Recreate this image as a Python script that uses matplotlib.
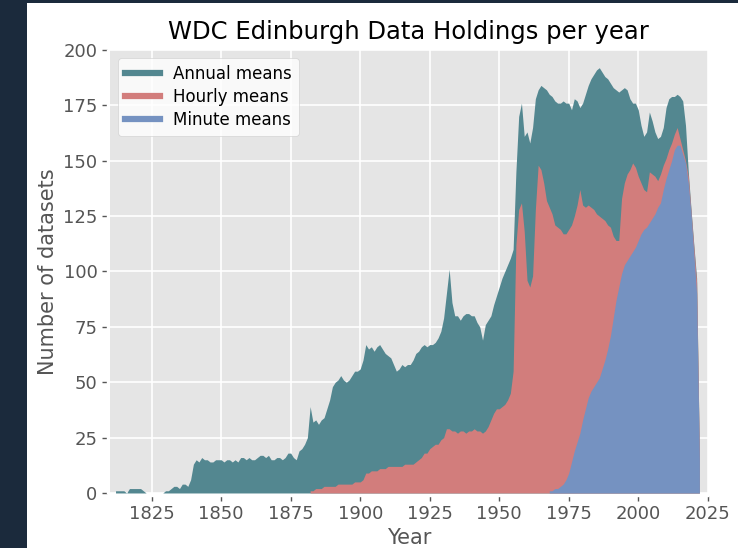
import numpy as np
import matplotlib
matplotlib.use("Agg")
import matplotlib.pyplot as plt
from matplotlib.lines import Line2D
from matplotlib.patches import Rectangle

plt.style.use("ggplot")

# Number of datasets held per year
annual_start = 1812
annual_counts = [
    1, 1, 1, 1, 0, 2, 2, 2, 2, 2, 1, 0, 0, 0, 0, 0, 0, 0,           # 1812-1829
    1, 1, 2, 3, 3, 2, 4, 4, 3, 6,                                   # 1830-1839
    13, 15, 14, 16, 15, 15, 14, 14, 15, 15,                         # 1840s
    15, 14, 15, 15, 14, 15, 14, 16, 16, 15,                         # 1850s
    16, 15, 15, 16, 17, 17, 16, 17, 15, 15,                         # 1860s
    16, 16, 15, 16, 18, 18, 16, 15, 19, 20,                         # 1870s
    22, 25, 39, 32, 33, 31, 33, 34, 38, 42,                         # 1880s
    48, 50, 51, 53, 51, 50, 51, 53, 55, 55,                         # 1890s
    56, 60, 67, 65, 66, 64, 66, 67, 65, 63,                         # 1900s
    62, 61, 58, 55, 56, 58, 57, 58, 58, 60,                         # 1910s
    63, 64, 66, 67, 66, 67, 67, 68, 70, 73,                         # 1920s
    79, 90, 101, 86, 80, 80, 78, 80, 81, 81,                        # 1930s
    80, 80, 77, 75, 69, 76, 78, 80, 85, 89,                         # 1940s
    93, 97, 100, 103, 106, 110, 145, 170, 176, 161,                 # 1950s
    163, 158, 165, 178, 182, 184, 183, 182, 180, 179,               # 1960s
    177, 176, 176, 177, 176, 176, 173, 178, 177, 174,               # 1970s
    176, 180, 184, 187, 189, 191, 192, 190, 188, 187,               # 1980s
    185, 183, 182, 181, 182, 183, 182, 178, 176, 176,               # 1990s
    173, 166, 161, 163, 172, 168, 163, 160, 161, 165,               # 2000s
    174, 178, 179, 179, 180, 179, 177, 166, 145, 128,               # 2010s
    112, 97, 17,                                                    # 2020-2022
]

hourly_start = 1882
hourly_counts = [
    1, 1, 2, 2, 2, 3, 3, 3,                                         # 1882-1889
    3, 3, 4, 4, 4, 4, 4, 4, 5, 5,                                   # 1890s
    5, 6, 9, 9, 10, 10, 10, 11, 11, 11,                             # 1900s
    12, 12, 12, 12, 12, 12, 13, 13, 13, 13,                         # 1910s
    14, 15, 16, 18, 18, 20, 21, 22, 22, 24,                         # 1920s
    25, 29, 29, 28, 28, 27, 28, 28, 27, 28,                         # 1930s
    28, 29, 28, 28, 27, 28, 30, 33, 36, 38,                         # 1940s
    38, 39, 40, 42, 45, 55, 112, 128, 131, 118,                     # 1950s
    96, 93, 98, 128, 148, 146, 140, 132, 129, 126,                  # 1960s
    121, 120, 119, 117, 117, 119, 121, 125, 130, 137,               # 1970s
    130, 129, 130, 129, 128, 126, 125, 124, 123, 121,               # 1980s
    120, 116, 114, 114, 133, 140, 144, 146, 149, 147,               # 1990s
    143, 140, 137, 136, 145, 144, 143, 141, 144, 148,               # 2000s
    151, 155, 158, 162, 165, 160, 155, 150, 143, 127,               # 2010s
    111, 95, 16,                                                    # 2020-2022
]

minute_start = 1968
minute_counts = [
    1, 1,                                                           # 1968-1969
    2, 2, 3, 4, 6, 9, 14, 19, 23, 27,                               # 1970s
    33, 38, 43, 46, 48, 50, 52, 56, 60, 65,                         # 1980s
    71, 79, 87, 93, 99, 103, 105, 107, 109, 111,                    # 1990s
    114, 117, 119, 120, 122, 124, 126, 129, 131, 137,               # 2000s
    142, 146, 150, 155, 157, 157, 153, 149, 140, 126,               # 2010s
    108, 90, 15,                                                    # 2020-2022
]

series_labels = ["Annual means", "Hourly means", "Minute means"]
series_colors = ["#538790", "#d27d7c", "#7592c1"]

series = [
    (annual_start, annual_counts),
    (hourly_start, hourly_counts),
    (minute_start, minute_counts),
]

fig = plt.figure(figsize=(7.38, 5.48), dpi=100, facecolor="#1b2a3c")
# white slide panel the chart sits on
fig.patches.append(Rectangle((27 / 738, 0), 1, 1 - 3 / 548, transform=fig.transFigure,
                             facecolor="white", edgecolor="none", zorder=-10))

ax = fig.add_axes([0.149, 0.1004, 0.810, 0.8084])

for (start, counts), color in zip(series, series_colors):
    years = np.arange(start, start + len(counts))
    ax.fill_between(years, 0, counts, color=color, linewidth=0)

ax.set_xlim(1810, 2025)
ax.set_ylim(0, 200)
ax.set_xticks(np.arange(1825, 2026, 25))
ax.set_yticks(np.arange(0, 201, 25))
ax.grid(True, color="white", linewidth=1.2)

# ticks sit a little away from the plot area, like the old ggplot style
for spine in ax.spines.values():
    spine.set_position(("outward", 2))
    spine.set_color("white")
ax.tick_params(labelsize=13, colors="#555555", length=3.5, width=1, direction="out")

ax.set_title("WDC Edinburgh Data Holdings per year", fontsize=17.5, color="black", pad=8)
ax.set_xlabel("Year", fontsize=15, color="#555555", labelpad=3)
ax.set_ylabel("Number of datasets", fontsize=15, color="#555555")

handles = [Line2D([], [], color=c, lw=4.5) for c in series_colors]
ax.legend(handles, series_labels, loc="upper left", fontsize=12,
          handlelength=2.1, labelspacing=0.3, facecolor="white", framealpha=0.8)

fig.savefig("out.png", dpi=100, facecolor=fig.get_facecolor())
